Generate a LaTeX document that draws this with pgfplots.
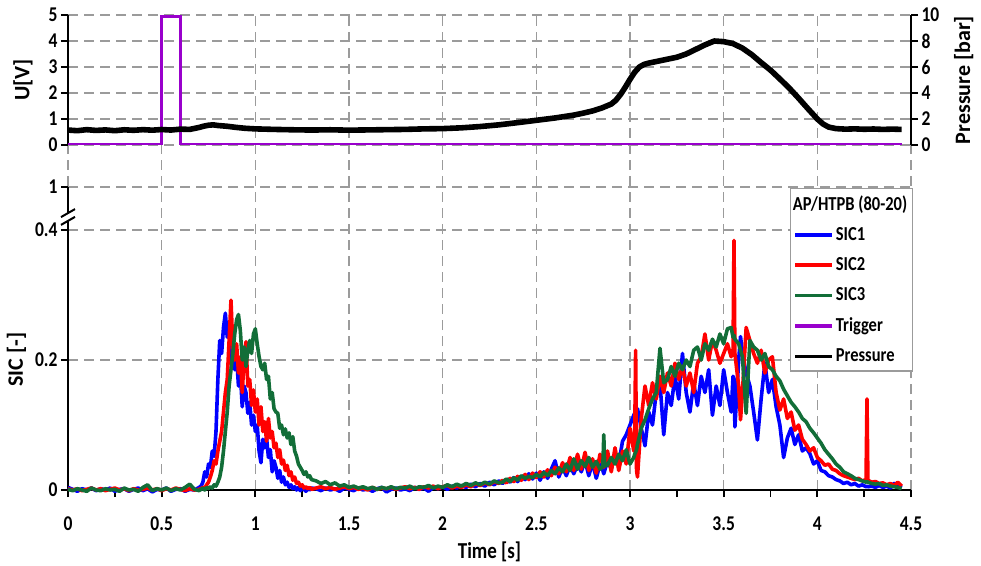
\documentclass[border=0pt]{standalone}
\usepackage{pgfplots}
\pgfplotsset{compat=1.18}
\usepackage{pgfplotstable}
\usepackage{fontspec}
\setmainfont{Carlito}

\definecolor{sicblue}{RGB}{0,0,255}
\definecolor{sicred}{RGB}{255,0,0}
\definecolor{sicgreen}{RGB}{18,110,56}
\definecolor{trigviolet}{RGB}{153,0,204}
\definecolor{gridgray}{RGB}{155,155,155}

% ion-current signals of the three sensors
\pgfplotstableread{
t s1 s2 s3
0.000 0.004 0.002 0.001
0.025 0.001 0.000 -0.001
0.050 -0.002 0.002 0.002
0.075 0.002 -0.001 0.000
0.100 0.000 0.001 -0.002
0.125 0.003 0.003 0.003
0.150 -0.001 0.000 0.000
0.175 0.002 0.002 -0.001
0.200 0.000 -0.001 0.002
0.225 0.003 0.001 0.000
0.250 -0.002 0.003 0.001
0.275 0.001 0.000 -0.002
0.300 0.002 0.002 0.003
0.325 -0.002 -0.001 0.000
0.350 0.001 0.002 0.001
0.375 0.003 0.000 -0.002
0.400 -0.001 0.001 0.004
0.425 0.002 0.003 0.008
0.450 -0.003 0.000 -0.001
0.475 0.001 0.002 0.002
0.500 0.000 -0.001 0.000
0.525 0.003 0.002 0.003
0.550 -0.002 0.000 -0.001
0.575 0.001 0.003 0.002
0.600 0.002 0.001 0.000
0.625 -0.002 -0.001 0.004
0.650 0.001 0.002 0.009
0.675 0.000 0.000 0.001
0.700 0.004 0.001 -0.001
0.71 0.006 0.002 0.001
0.72 0.012 0.004 0.003
0.73 0.028 0.003 0.000
0.74 0.020 0.008 0.004
0.75 0.040 0.012 0.002
0.76 0.035 0.020 0.005
0.77 0.060 0.030 0.003
0.78 0.052 0.045 0.008
0.79 0.090 0.040 0.006
0.80 0.170 0.060 0.012
0.81 0.230 0.075 0.020
0.82 0.210 0.090 0.035
0.83 0.250 0.120 0.060
0.84 0.272 0.150 0.090
0.85 0.235 0.170 0.120
0.86 0.255 0.230 0.160
0.87 0.200 0.292 0.185
0.88 0.230 0.220 0.210
0.89 0.185 0.200 0.240
0.90 0.205 0.225 0.262
0.91 0.160 0.180 0.270
0.92 0.180 0.205 0.245
0.93 0.128 0.150 0.200
0.94 0.160 0.200 0.220
0.95 0.150 0.228 0.190
0.96 0.118 0.160 0.215
0.97 0.135 0.170 0.230
0.98 0.100 0.130 0.210
0.99 0.115 0.154 0.240
1.00 0.090 0.120 0.248
1.01 0.100 0.140 0.225
1.02 0.060 0.100 0.205
1.03 0.042 0.128 0.190
1.04 0.078 0.090 0.185
1.05 0.065 0.105 0.195
1.06 0.080 0.075 0.170
1.07 0.050 0.110 0.175
1.08 0.062 0.080 0.140
1.09 0.028 0.090 0.150
1.10 0.045 0.065 0.125
1.11 0.035 0.072 0.120
1.12 0.018 0.050 0.118
1.13 0.030 0.062 0.095
1.14 0.012 0.040 0.100
1.15 0.020 0.046 0.085
1.16 0.008 0.030 0.094
1.17 0.012 0.038 0.080
1.18 0.004 0.022 0.088
1.19 0.008 0.028 0.070
1.20 0.002 0.015 0.082
1.21 0.005 0.020 0.060
1.22 0.000 0.010 0.052
1.23 0.004 0.012 0.040
1.24 -0.001 0.006 0.035
1.25 0.003 0.008 0.030
1.26 0.001 0.003 0.024
1.27 -0.002 0.005 0.028
1.28 0.002 0.002 0.020
1.29 0.000 0.004 0.022
1.30 0.003 0.001 0.016
1.325 0.002 0.003 0.014
1.350 -0.001 0.005 0.010
1.375 0.003 0.002 0.013
1.400 0.000 0.004 0.008
1.425 0.002 0.001 0.011
1.450 -0.002 0.003 0.006
1.475 0.003 0.005 0.008
1.500 0.001 0.002 0.004
1.525 -0.001 0.004 0.006
1.550 0.003 0.001 0.003
1.575 0.000 0.003 0.005
1.600 0.002 0.000 0.002
1.625 -0.002 0.004 0.004
1.650 0.002 0.001 0.001
1.675 0.004 0.003 0.004
1.700 -0.003 0.002 0.002
1.725 0.001 0.004 0.005
1.750 0.003 0.001 0.002
1.775 0.000 0.003 0.004
1.800 0.002 0.005 0.003
1.825 -0.001 0.002 0.006
1.850 0.004 0.004 0.002
1.875 0.001 0.001 0.005
1.900 0.003 0.005 0.004
1.925 -0.002 0.003 0.007
1.950 0.004 0.006 0.003
1.975 0.002 0.002 0.006
2.000 0.005 0.005 0.004
2.025 0.001 0.007 0.008
2.050 0.006 0.003 0.005
2.075 0.003 0.006 0.009
2.100 0.007 0.004 0.006
2.125 0.004 0.008 0.010
2.150 0.009 0.005 0.007
2.175 0.005 0.010 0.011
2.200 0.010 0.007 0.008
2.225 0.006 0.011 0.012
2.250 0.012 0.008 0.009
2.275 0.008 0.013 0.014
2.300 0.014 0.010 0.011
2.32 0.010 0.015 0.012
2.34 0.016 0.011 0.017
2.36 0.012 0.018 0.013
2.38 0.019 0.013 0.019
2.40 0.013 0.021 0.015
2.42 0.021 0.015 0.022
2.44 0.016 0.024 0.018
2.46 0.025 0.016 0.021
2.48 0.017 0.026 0.019
2.50 0.026 0.019 0.024
2.52 0.015 0.028 0.020
2.54 0.028 0.020 0.027
2.56 0.018 0.031 0.022
2.58 0.032 0.022 0.030
2.60 0.045 0.035 0.025
2.62 0.020 0.025 0.034
2.64 0.035 0.042 0.028
2.66 0.022 0.028 0.040
2.68 0.038 0.050 0.030
2.70 0.025 0.030 0.048
2.72 0.040 0.055 0.032
2.74 0.028 0.032 0.045
2.76 0.045 0.058 0.036
2.78 0.022 0.030 0.050
2.80 0.042 0.048 0.035
2.82 0.018 0.026 0.044
2.84 0.040 0.055 0.032
2.855 0.030 0.040 0.036
2.86 0.025 0.035 0.085
2.865 0.030 0.042 0.037
2.88 0.045 0.060 0.038
2.90 0.032 0.028 0.050
2.92 0.055 0.065 0.040
2.94 0.040 0.030 0.055
2.96 0.075 0.060 0.045
2.98 0.085 0.040 0.062
3.00 0.100 0.095 0.040
3.02 0.115 0.060 0.050
3.025 0.118 0.080 0.055
3.03 0.110 0.215 0.058
3.035 0.120 0.030 0.062
3.04 0.125 0.020 0.070
3.06 0.095 0.110 0.095
3.08 0.068 0.160 0.108
3.10 0.120 0.130 0.125
3.12 0.100 0.165 0.140
3.14 0.150 0.140 0.150
3.16 0.165 0.175 0.218
3.18 0.085 0.150 0.165
3.20 0.150 0.180 0.170
3.22 0.130 0.160 0.190
3.24 0.175 0.195 0.175
3.26 0.140 0.170 0.195
3.28 0.210 0.190 0.185
3.30 0.150 0.160 0.200
3.32 0.120 0.180 0.190
3.34 0.165 0.150 0.215
3.36 0.130 0.195 0.220
3.38 0.175 0.205 0.200
3.40 0.150 0.240 0.225
3.42 0.185 0.200 0.215
3.44 0.115 0.230 0.232
3.46 0.160 0.215 0.220
3.48 0.130 0.195 0.240
3.50 0.185 0.210 0.225
3.52 0.150 0.225 0.248
3.54 0.120 0.205 0.250
3.55 0.175 0.215 0.235
3.555 0.170 0.384 0.238
3.56 0.097 0.210 0.232
3.58 0.200 0.160 0.225
3.59 0.236 0.108 0.215
3.60 0.210 0.150 0.205
3.62 0.180 0.250 0.118
3.64 0.160 0.230 0.230
3.66 0.120 0.210 0.220
3.68 0.077 0.195 0.215
3.70 0.140 0.215 0.200
3.72 0.195 0.180 0.210
3.74 0.150 0.200 0.190
3.76 0.170 0.205 0.185
3.78 0.128 0.150 0.175
3.80 0.100 0.123 0.168
3.82 0.050 0.140 0.155
3.84 0.080 0.110 0.145
3.86 0.095 0.120 0.135
3.88 0.070 0.092 0.128
3.90 0.085 0.100 0.120
3.92 0.060 0.078 0.110
3.94 0.065 0.070 0.105
3.96 0.056 0.060 0.095
3.98 0.040 0.065 0.088
4.00 0.045 0.050 0.080
4.02 0.030 0.045 0.072
4.04 0.028 0.038 0.062
4.06 0.022 0.040 0.055
4.08 0.020 0.032 0.048
4.10 0.016 0.030 0.040
4.12 0.014 0.025 0.035
4.14 0.010 0.022 0.028
4.16 0.012 0.020 0.025
4.18 0.008 0.018 0.022
4.20 0.010 0.016 0.018
4.22 0.006 0.018 0.016
4.24 0.008 0.014 0.014
4.26 0.005 0.016 0.012
4.265 0.006 0.140 0.013
4.27 0.005 0.015 0.012
4.29 0.006 0.012 0.010
4.31 0.004 0.013 0.009
4.33 0.007 0.010 0.010
4.35 0.004 0.011 0.007
4.37 0.006 0.008 0.008
4.39 0.003 0.010 0.006
4.41 0.010 0.007 0.005
4.43 0.004 0.012 0.004
4.45 0.008 0.006 0.002
}\sicdata

% chamber pressure in bar
\pgfplotstableread{
t p
0.00 1.15
0.05 1.10
0.10 1.18
0.15 1.12
0.20 1.16
0.25 1.10
0.30 1.17
0.35 1.13
0.40 1.18
0.45 1.14
0.50 1.19
0.55 1.15
0.60 1.22
0.65 1.20
0.70 1.35
0.725 1.45
0.75 1.52
0.775 1.55
0.80 1.50
0.85 1.44
0.90 1.35
0.95 1.28
1.00 1.24
1.10 1.20
1.20 1.17
1.30 1.15
1.40 1.17
1.50 1.14
1.60 1.16
1.70 1.18
1.80 1.20
1.90 1.24
2.00 1.26
2.10 1.32
2.20 1.42
2.30 1.55
2.40 1.72
2.50 1.90
2.60 2.08
2.70 2.30
2.75 2.45
2.80 2.62
2.85 2.85
2.90 3.15
2.925 3.45
2.95 3.90
2.975 4.45
3.00 5.05
3.025 5.60
3.05 6.00
3.075 6.20
3.10 6.30
3.15 6.45
3.20 6.60
3.25 6.75
3.30 7.00
3.35 7.35
3.40 7.70
3.45 8.00
3.50 7.95
3.55 7.80
3.60 7.45
3.65 6.95
3.70 6.34
3.75 5.76
3.80 5.08
3.85 4.38
3.90 3.60
3.95 2.79
4.00 2.00
4.03 1.62
4.06 1.38
4.10 1.26
4.15 1.22
4.20 1.24
4.25 1.21
4.30 1.23
4.35 1.20
4.40 1.22
4.45 1.20
}\pressdata

\pgfplotsset{
  chartbase/.style={
    scale only axis, width=843pt, xmin=0, xmax=4.5,
    /pgf/number format/assume math mode=true,
    tick label style={font=\bfseries\fontsize{17.5}{20}\selectfont, yscale=1.2},
    label style={font=\bfseries\fontsize{22}{24}\selectfont},
    axis line style={-, line width=2.4pt, black},
    every tick/.style={black, line width=1.8pt},
    major tick length=7pt, minor tick length=7pt,
    tick align=outside,
    grid style={gridgray, line width=1.3pt, dash pattern=on 10pt off 6pt},
  },
}

\begin{document}
\begin{tikzpicture}
\path[use as bounding box] (0pt,0pt) rectangle (981pt,565pt);

% vertical grid running through both panels
\begin{axis}[chartbase, at={(68pt,75pt)}, anchor=south west, height=475pt,
  ymin=0, ymax=1, xtick={0,0.5,...,4.5}, xticklabels={}, ytick=\empty,
  xmajorgrids, axis line style={draw=none}, tick style={draw=none}]
\end{axis}

% upper panel: trigger voltage
\begin{axis}[chartbase, at={(68pt,420pt)}, anchor=south west, height=130pt,
  ymin=0, ymax=5, ytick={0,1,...,5}, axis y line*=left, axis x line=none,
  ymajorgrids, ylabel={U[V]},
  ylabel style={at={(ticklabel cs:0.5,9pt)}}]
  \addplot[trigviolet, line width=3.2pt] coordinates
    {(0,0) (0.5,0) (0.5,4.93) (0.6,4.93) (0.6,0) (4.45,0)};
\end{axis}

% upper panel: pressure
\begin{axis}[chartbase, at={(68pt,420pt)}, anchor=south west, height=130pt,
  ymin=0, ymax=10, ytick={0,2,...,10}, axis y line*=right, axis x line=none,
  ylabel={Pressure [bar]},
  ylabel style={at={(ticklabel cs:0.5,8pt)}}]
  \addplot[black, line width=5.6pt, line join=round] table[x=t,y=p]{\pressdata};
\end{axis}

% lower panel: SIC signals
\begin{axis}[chartbase, at={(68pt,75pt)}, anchor=south west, height=303pt,
  ymin=0, ymax=0.46615, ytick={0,0.2,0.4,0.46615}, yticklabels={0,0.2,0.4,1},
  xtick={0,0.5,...,4.5}, minor xtick={0.25,0.75,...,4.25},
  axis x line*=bottom, axis y line*=left, ymajorgrids, clip=false,
  xticklabel style={yshift=-13pt},
  xlabel={Time [s]}, ylabel={SIC [-]},
  xlabel style={font=\bfseries\fontsize{19}{21}\selectfont, yscale=1.2, yshift=-2pt},
  ylabel style={at={(ticklabel cs:0.43,2pt)}},
  legend cell align=left,
  legend image code/.code={\draw[line width=3.6pt] (0pt,0pt) -- (37pt,0pt);},
  legend style={at={(0.856,0.997)}, anchor=north west, draw=gridgray,
    line width=1.3pt, fill=white, font=\bfseries\fontsize{16.5}{19}\selectfont,
    nodes={inner sep=2pt, text depth=0.15em, yscale=1.2},
    inner xsep=3pt, inner ysep=5pt, row sep=10.5pt}]
  \addlegendimage{empty legend}
  \addlegendentry{\hspace*{-43pt}AP/HTPB (80-20)}
  \addplot[sicblue, line width=3.6pt, line join=round] table[x=t,y=s1]{\sicdata};
  \addlegendentry{SIC1}
  \addplot[sicred, line width=3.6pt, line join=round] table[x=t,y=s2]{\sicdata};
  \addlegendentry{SIC2}
  \addplot[sicgreen, line width=3.6pt, line join=round] table[x=t,y=s3]{\sicdata};
  \addlegendentry{SIC3}
  \addlegendimage{trigviolet, line width=3.2pt}
  \addlegendentry{Trigger}
  \addlegendimage{black, line width=3.2pt}
  \addlegendentry{Pressure}
  % axis break between 0.4 and 1
  \fill[white] ([xshift=-3pt]axis cs:0,0.4155) rectangle ([xshift=3pt]axis cs:0,0.4245);
  \draw[line width=2pt] ([xshift=-7pt,yshift=-4pt]axis cs:0,0.414) -- ([xshift=7pt,yshift=4pt]axis cs:0,0.414);
  \draw[line width=2pt] ([xshift=-7pt,yshift=-4pt]axis cs:0,0.426) -- ([xshift=7pt,yshift=4pt]axis cs:0,0.426);
\end{axis}
\end{tikzpicture}
\end{document}
